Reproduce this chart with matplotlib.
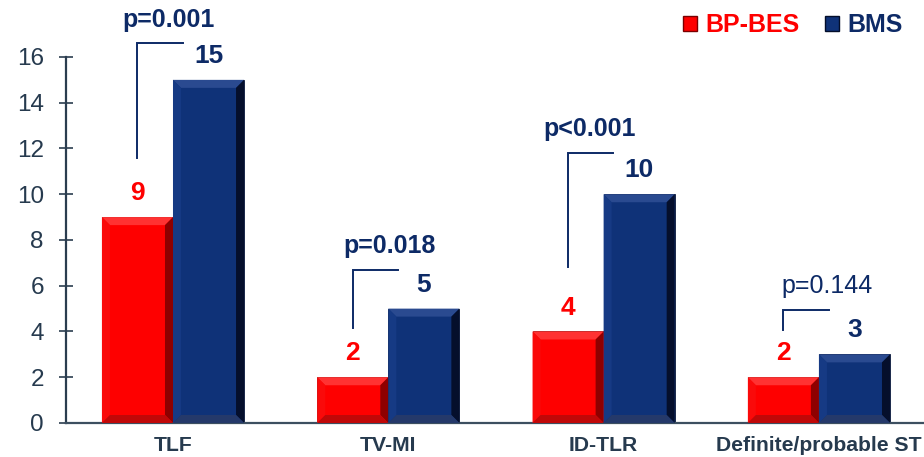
import numpy as np
import matplotlib.pyplot as plt
from matplotlib.patches import Polygon, Patch

plt.rcParams['font.family'] = ['Liberation Sans', 'DejaVu Sans']

# Event rates (%) per endpoint
categories = ["TLF", "TV-MI", "ID-TLR", "Definite/probable ST"]
bp_bes = [9, 2, 4, 2]
bms = [15, 5, 10, 3]
p_values = ["p=0.001", "p=0.018", "p<0.001", "p=0.144"]
p_bold = [True, True, True, False]

# bracket layout: height of the top bar, lower end of the left leg, p-label x offset
bracket_top = [16.6, 6.7, 11.8, 4.95]
bracket_bottom = [11.6, 4.15, 6.8, 4.05]
p_label_dx = [-0.023, 0.005, -0.065, 0.04]

RED = "#fe0000"
BLUE = "#0f3278"
NAVY = "#0d2a66"
SLATE = "#263a4e"

# face shades for the bevelled look: top, left, right, bottom
RED_SHADES = ["#ff3232", "#fa0a0a", "#8e0000", "#c00808"]
BLUE_SHADES = ["#2a4a90", "#163a84", "#050f2c", "#25396a"]


def bevel(ax, bars, shades, px=8):
    inv = ax.transData.inverted()
    ox, oy = inv.transform((0, 0))
    ex, ey = inv.transform((px, px))
    bx, by = ex - ox, ey - oy
    for b in bars:
        x0, y0 = b.get_x(), b.get_y()
        x1, y1 = x0 + b.get_width(), y0 + b.get_height()
        faces = [
            [(x0, y1), (x1, y1), (x1 - bx, y1 - by), (x0 + bx, y1 - by)],
            [(x0, y0), (x0, y1), (x0 + bx, y1 - by), (x0 + bx, y0 + by)],
            [(x1, y0), (x1, y1), (x1 - bx, y1 - by), (x1 - bx, y0 + by)],
            [(x0, y0), (x1, y0), (x1 - bx, y0 + by), (x0 + bx, y0 + by)],
        ]
        for pts, c in zip(faces, shades):
            ax.add_patch(Polygon(pts, closed=True, facecolor=c, edgecolor="none", zorder=3))


fig = plt.figure(figsize=(9.24, 4.57), dpi=100)
ax = fig.add_axes([0.0714, 0.0744, 0.9286, 0.8009])

x = np.arange(len(categories))
w = 0.33
red_bars = ax.bar(x - w / 2, bp_bes, w, color=RED, edgecolor="#8a1a1a", linewidth=0.6, zorder=2)
blue_bars = ax.bar(x + w / 2, bms, w, color=BLUE, edgecolor="#0a1838", linewidth=0.6, zorder=2)

ax.set_xlim(-0.497, 3.488)
ax.set_ylim(0, 16)

bevel(ax, red_bars, RED_SHADES)
bevel(ax, blue_bars, BLUE_SHADES)

# value labels
for b, v in zip(red_bars, bp_bes):
    ax.annotate(str(v), (b.get_x() + b.get_width() / 2, v), xytext=(0, 12.2),
                textcoords="offset points", ha="center", va="baseline",
                fontsize=19, fontweight="bold", color=RED, annotation_clip=False)
for b, v in zip(blue_bars, bms):
    ax.annotate(str(v), (b.get_x() + b.get_width() / 2, v), xytext=(0, 12.2),
                textcoords="offset points", ha="center", va="baseline",
                fontsize=19, fontweight="bold", color=NAVY, annotation_clip=False)

# significance brackets
for i, xc in enumerate(x):
    left = xc - w / 2
    ax.plot([left, left, xc + 0.045], [bracket_bottom[i], bracket_top[i], bracket_top[i]],
            color=NAVY, lw=1.4, clip_on=False, solid_joinstyle="miter", zorder=4)
    ax.annotate(p_values[i], (xc + p_label_dx[i], bracket_top[i]), xytext=(0, 12),
                textcoords="offset points", ha="center", va="baseline", fontsize=18,
                fontweight="bold" if p_bold[i] else "normal", color=NAVY,
                annotation_clip=False)

# axes styling
for s in ["top", "right"]:
    ax.spines[s].set_visible(False)
ax.spines["left"].set_color("#2b3d4f")
ax.spines["left"].set_linewidth(1.6)
ax.spines["bottom"].set_color("#3c4f60")
ax.spines["bottom"].set_linewidth(1.6)

ax.set_yticks(range(0, 17, 2))
ax.tick_params(axis="y", direction="inout", length=10, width=1.2, color="#2b3d4f",
               labelsize=17.5, labelcolor=SLATE, pad=11)
ax.set_xticks(x)
ax.set_xticklabels(categories, fontweight="bold")
ax.tick_params(axis="x", length=0, pad=9.5, labelsize=15.2, labelcolor=SLATE)

handles = [Patch(facecolor=RED, edgecolor="#7a0000"), Patch(facecolor=BLUE, edgecolor="#030e2a")]
leg = fig.legend(handles, ["BP-BES", "BMS"], loc="center right", bbox_to_anchor=(0.977, 0.945),
                 ncol=2, frameon=False, prop=dict(weight="bold", size=18),
                 handlelength=0.55, handleheight=0.55, handletextpad=0.35,
                 columnspacing=1.0, borderpad=0, borderaxespad=0)
for t, c in zip(leg.get_texts(), [RED, NAVY]):
    t.set_color(c)

fig.savefig("out.png", dpi=100)
